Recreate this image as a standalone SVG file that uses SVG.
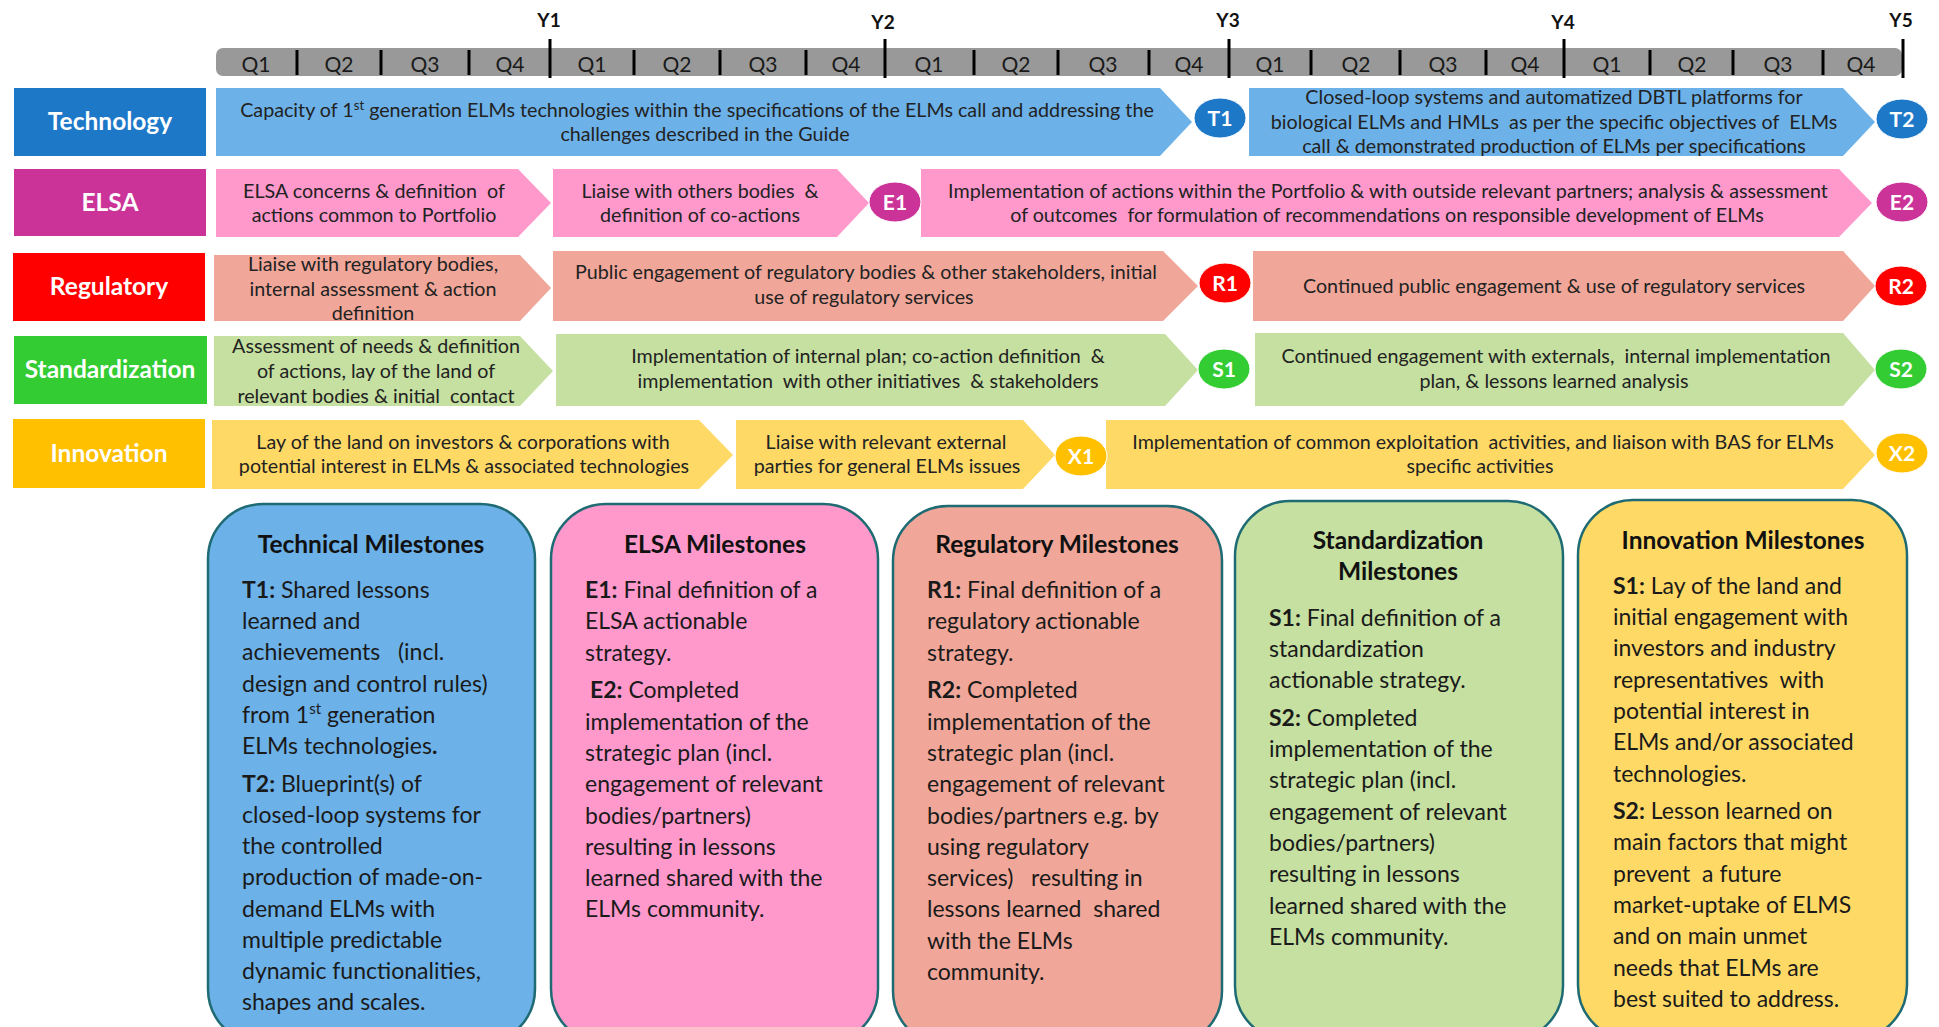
<svg xmlns="http://www.w3.org/2000/svg" width="1939" height="1027" viewBox="0 0 1939 1027">
<style>
text{font-family:Lato,"Liberation Sans",sans-serif}
.lbl{font-weight:bold;fill:#fff;font-size:24.5px;text-anchor:middle}
.bt{font-size:19.7px;fill:#222;text-anchor:middle}
.q{font-size:21px;fill:#1a1a1a;text-anchor:middle}
.yr{font-size:19px;font-weight:bold;fill:#111;text-anchor:middle}
.ct{font-size:21px;font-weight:bold;fill:#fff;text-anchor:middle}
.ms{font-size:23px;fill:#1a1a1a}
.mt{font-size:24.5px;font-weight:bold;fill:#111;text-anchor:middle}
.b{font-weight:bold}
.tick{stroke:#000;stroke-width:3}
.box{stroke:#1f6b73;stroke-width:2.5}
.circ{stroke:#fff;stroke-width:1}
</style>

<g id="timeline">
<rect x="216" y="48" width="1686" height="28" rx="7" fill="#999"/>
<g class="tick">
<line x1="297" y1="50" x2="297" y2="75"/><line x1="381" y1="50" x2="381" y2="75"/><line x1="469" y1="50" x2="469" y2="75"/>
<line x1="550" y1="39" x2="550" y2="78"/>
<line x1="634" y1="50" x2="634" y2="75"/><line x1="720" y1="50" x2="720" y2="75"/><line x1="806" y1="50" x2="806" y2="75"/>
<line x1="885" y1="39" x2="885" y2="78"/>
<line x1="974" y1="50" x2="974" y2="75"/><line x1="1058" y1="50" x2="1058" y2="75"/><line x1="1149" y1="50" x2="1149" y2="75"/>
<line x1="1229" y1="39" x2="1229" y2="78"/>
<line x1="1311" y1="50" x2="1311" y2="75"/><line x1="1400" y1="50" x2="1400" y2="75"/><line x1="1486" y1="50" x2="1486" y2="75"/>
<line x1="1564" y1="39" x2="1564" y2="78"/>
<line x1="1650" y1="50" x2="1650" y2="75"/><line x1="1733" y1="50" x2="1733" y2="75"/><line x1="1823" y1="50" x2="1823" y2="75"/>
<line x1="1903" y1="39" x2="1903" y2="78"/>
</g>
<text class="yr" x="549" y="27">Y1</text>
<text class="yr" x="883" y="29">Y2</text>
<text class="yr" x="1228" y="27">Y3</text>
<text class="yr" x="1563" y="29">Y4</text>
<text class="yr" x="1901" y="27">Y5</text>
<g class="q">
<text x="256" y="72">Q1</text><text x="339" y="72">Q2</text><text x="425" y="72">Q3</text><text x="510" y="72">Q4</text>
<text x="592" y="72">Q1</text><text x="677" y="72">Q2</text><text x="763" y="72">Q3</text><text x="846" y="72">Q4</text>
<text x="929" y="72">Q1</text><text x="1016" y="72">Q2</text><text x="1103" y="72">Q3</text><text x="1189" y="72">Q4</text>
<text x="1270" y="72">Q1</text><text x="1356" y="72">Q2</text><text x="1443" y="72">Q3</text><text x="1525" y="72">Q4</text>
<text x="1607" y="72">Q1</text><text x="1692" y="72">Q2</text><text x="1778" y="72">Q3</text><text x="1861" y="72">Q4</text>
</g>
</g>

<g id="row-technology">
<rect x="14" y="88" width="192" height="68" fill="#1e78c8"/>
<text class="lbl" x="110" y="130">Technology</text>
<path d="M216,88 H1160 L1192,122 L1160,156 H216 Z" fill="#6cb1e8"/>
<text class="bt" x="697" y="117">Capacity of 1<tspan font-size="13" dy="-7">st</tspan><tspan dy="7"> generation ELMs technologies within the specifications of the ELMs call and addressing the</tspan></text>
<text class="bt" x="705" y="141">challenges described in the Guide</text>
<path d="M1249,88 H1843 L1875,122 L1843,156 H1249 Z" fill="#6cb1e8"/>
<text class="bt" x="1554" y="104">Closed-loop systems and automatized DBTL platforms for</text>
<text class="bt" x="1554" y="129">biological ELMs and HMLs &#160;as per the specific objectives of &#160;ELMs</text>
<text class="bt" x="1554" y="153">call &amp; demonstrated production of ELMs per specifications</text>
<ellipse class="circ" cx="1220" cy="118" rx="26" ry="20" fill="#1e78c8"/>
<text class="ct" x="1220" y="125.5">T1</text>
<ellipse class="circ" cx="1902" cy="119" rx="26" ry="20" fill="#1e78c8"/>
<text class="ct" x="1902" y="126.5">T2</text>
</g>

<g id="row-elsa">
<rect x="14" y="169" width="192" height="67" fill="#cc3399"/>
<text class="lbl" x="110" y="211">ELSA</text>
<path d="M216,169 H518 L551,203 L518,237 H216 Z" fill="#ff99cc"/>
<text class="bt" x="374" y="198">ELSA concerns &amp; definition &#160;of</text>
<text class="bt" x="374" y="222">actions common to Portfolio</text>
<path d="M553,169 H837 L869,203 L837,237 H553 Z" fill="#ff99cc"/>
<text class="bt" x="700" y="198">Liaise with others bodies &#160;&amp;</text>
<text class="bt" x="700" y="222">definition of co-actions</text>
<path d="M921,169 H1839 L1872,203 L1839,237 H921 Z" fill="#ff99cc"/>
<text class="bt" x="1388" y="198">Implementation of actions within the Portfolio &amp; with outside relevant partners; analysis &amp; assessment</text>
<text class="bt" x="1387" y="222">of outcomes &#160;for formulation of recommendations on responsible development of ELMs</text>
<ellipse class="circ" cx="895" cy="202" rx="26" ry="20" fill="#cc3399"/>
<text class="ct" x="895" y="209.5">E1</text>
<ellipse class="circ" cx="1902" cy="202" rx="26" ry="20" fill="#cc3399"/>
<text class="ct" x="1902" y="209.5">E2</text>
</g>

<g id="row-regulatory">
<rect x="13" y="253" width="192" height="68" fill="#ff0000"/>
<text class="lbl" x="109" y="295">Regulatory</text>
<path d="M214,255 H520 L551,288 L520,321 H214 Z" fill="#f0a799"/>
<text class="bt" x="373" y="271">Liaise with regulatory bodies,</text>
<text class="bt" x="373" y="296">internal assessment &amp; action</text>
<text class="bt" x="373" y="320">definition</text>
<path d="M553,251 H1163 L1198,286 L1163,321 H553 Z" fill="#f0a799"/>
<text class="bt" x="866" y="279">Public engagement of regulatory bodies &amp; other stakeholders, initial</text>
<text class="bt" x="864" y="304">use of regulatory services</text>
<path d="M1253,251 H1843 L1875,286 L1843,321 H1253 Z" fill="#f0a799"/>
<text class="bt" x="1554" y="293">Continued public engagement &amp; use of regulatory services</text>
<ellipse class="circ" cx="1225" cy="283" rx="26" ry="20" fill="#ff0000"/>
<text class="ct" x="1225" y="290.5">R1</text>
<ellipse class="circ" cx="1901" cy="286" rx="26" ry="20" fill="#ff0000"/>
<text class="ct" x="1901" y="293.5">R2</text>
</g>

<g id="row-standardization">
<rect x="14" y="336" width="193" height="68" fill="#33cc33"/>
<text class="lbl" x="110" y="378">Standardization</text>
<path d="M214,336 H520 L553,371 L520,406 H214 Z" fill="#c5e0a0"/>
<text class="bt" x="376" y="353">Assessment of needs &amp; definition</text>
<text class="bt" x="376" y="378">of actions, lay of the land of</text>
<text class="bt" x="376" y="403">relevant bodies &amp; initial &#160;contact</text>
<path d="M556,334 H1165 L1198,370 L1165,406 H556 Z" fill="#c5e0a0"/>
<text class="bt" x="868" y="363">Implementation of internal plan; co-action definition &#160;&amp;</text>
<text class="bt" x="868" y="388">implementation &#160;with other initiatives &#160;&amp; stakeholders</text>
<path d="M1255,333 H1843 L1875,370 L1843,406 H1255 Z" fill="#c5e0a0"/>
<text class="bt" x="1556" y="363">Continued engagement with externals, &#160;internal implementation</text>
<text class="bt" x="1554" y="388">plan, &amp; lessons learned analysis</text>
<ellipse class="circ" cx="1224" cy="369" rx="26" ry="20" fill="#33cc33"/>
<text class="ct" x="1224" y="376.5">S1</text>
<ellipse class="circ" cx="1901" cy="369" rx="26" ry="20" fill="#33cc33"/>
<text class="ct" x="1901" y="376.5">S2</text>
</g>

<g id="row-innovation">
<rect x="13" y="419" width="192" height="69" fill="#ffc000"/>
<text class="lbl" x="109" y="462">Innovation</text>
<path d="M212,420 H699 L733,455 L699,489 H212 Z" fill="#ffd966"/>
<text class="bt" x="463" y="449">Lay of the land on investors &amp; corporations with</text>
<text class="bt" x="464" y="473">potential interest in ELMs &amp; associated technologies</text>
<path d="M736,420 H1023 L1055,455 L1023,489 H736 Z" fill="#ffd966"/>
<text class="bt" x="886" y="449">Liaise with relevant external</text>
<text class="bt" x="887" y="473">parties for general ELMs issues</text>
<path d="M1106,420 H1843 L1875,455 L1843,489 H1106 Z" fill="#ffd966"/>
<text class="bt" x="1483" y="449">Implementation of common exploitation &#160;activities, and liaison with BAS for ELMs</text>
<text class="bt" x="1480" y="473">specific activities</text>
<ellipse class="circ" cx="1081" cy="456" rx="26" ry="20" fill="#ffc000"/>
<text class="ct" x="1081" y="463.5">X1</text>
<ellipse class="circ" cx="1902" cy="453" rx="26" ry="20" fill="#ffc000"/>
<text class="ct" x="1902" y="460.5">X2</text>
</g>

<g id="box-technical">
<rect class="box" x="208" y="504" width="327" height="540" rx="55" fill="#6cb1e8"/>
<text class="mt" x="371" y="553">Technical Milestones</text>
<text class="ms">
<tspan x="242" y="598"><tspan class="b">T1:</tspan> Shared lessons</tspan>
<tspan x="242" y="629">learned and</tspan>
<tspan x="242" y="660">achievements &#160;&#160;(incl.</tspan>
<tspan x="242" y="692">design and control rules)</tspan>
<tspan x="242" y="723">from 1<tspan font-size="15" dy="-9">st</tspan><tspan dy="9"> generation</tspan></tspan>
<tspan x="242" y="754">ELMs technologies<tspan class="b">.</tspan></tspan>
<tspan x="242" y="792"><tspan class="b">T2:</tspan> Blueprint(s) of</tspan>
<tspan x="242" y="823">closed-loop systems for</tspan>
<tspan x="242" y="854">the controlled</tspan>
<tspan x="242" y="885">production of made-on-</tspan>
<tspan x="242" y="917">demand ELMs with</tspan>
<tspan x="242" y="948">multiple predictable</tspan>
<tspan x="242" y="979">dynamic functionalities,</tspan>
<tspan x="242" y="1010">shapes and scales.</tspan>
</text>
</g>

<g id="box-elsa">
<rect class="box" x="551" y="504" width="327" height="540" rx="55" fill="#ff99cc"/>
<text class="mt" x="715" y="553">ELSA Milestones</text>
<text class="ms">
<tspan x="585" y="598"><tspan class="b">E1:</tspan> Final definition of a</tspan>
<tspan x="585" y="629">ELSA actionable</tspan>
<tspan x="585" y="661">strategy.</tspan>
<tspan x="590" y="698"><tspan class="b">E2:</tspan> Completed</tspan>
<tspan x="585" y="730">implementation of the</tspan>
<tspan x="585" y="761">strategic plan (incl.</tspan>
<tspan x="585" y="792">engagement of relevant</tspan>
<tspan x="585" y="824">bodies/partners)</tspan>
<tspan x="585" y="855">resulting in lessons</tspan>
<tspan x="585" y="886">learned shared with the</tspan>
<tspan x="585" y="917">ELMs community.</tspan>
</text>
</g>

<g id="box-regulatory">
<rect class="box" x="893" y="506" width="329" height="540" rx="55" fill="#f0a799"/>
<text class="mt" x="1057" y="553">Regulatory Milestones</text>
<text class="ms">
<tspan x="927" y="598"><tspan class="b">R1:</tspan> Final definition of a</tspan>
<tspan x="927" y="629">regulatory actionable</tspan>
<tspan x="927" y="661">strategy.</tspan>
<tspan x="927" y="698"><tspan class="b">R2:</tspan> Completed</tspan>
<tspan x="927" y="730">implementation of the</tspan>
<tspan x="927" y="761">strategic plan (incl.</tspan>
<tspan x="927" y="792">engagement of relevant</tspan>
<tspan x="927" y="824">bodies/partners e.g. by</tspan>
<tspan x="927" y="855">using regulatory</tspan>
<tspan x="927" y="886">services) &#160;&#160;resulting in</tspan>
<tspan x="927" y="917">lessons learned &#160;shared</tspan>
<tspan x="927" y="949">with the ELMs</tspan>
<tspan x="927" y="980">community.</tspan>
</text>
</g>

<g id="box-standardization">
<rect class="box" x="1235" y="501" width="328" height="540" rx="55" fill="#c5e0a0"/>
<text class="mt" x="1398" y="549">Standardization</text>
<text class="mt" x="1398" y="580">Milestones</text>
<text class="ms">
<tspan x="1269" y="626"><tspan class="b">S1:</tspan> Final definition of a</tspan>
<tspan x="1269" y="657">standardization</tspan>
<tspan x="1269" y="688">actionable strategy.</tspan>
<tspan x="1269" y="726"><tspan class="b">S2:</tspan> Completed</tspan>
<tspan x="1269" y="757">implementation of the</tspan>
<tspan x="1269" y="788">strategic plan (incl.</tspan>
<tspan x="1269" y="820">engagement of relevant</tspan>
<tspan x="1269" y="851">bodies/partners)</tspan>
<tspan x="1269" y="882">resulting in lessons</tspan>
<tspan x="1269" y="914">learned shared with the</tspan>
<tspan x="1269" y="945">ELMs community.</tspan>
</text>
</g>

<g id="box-innovation">
<rect class="box" x="1578" y="500" width="329" height="540" rx="55" fill="#ffd966"/>
<text class="mt" x="1743" y="549">Innovation Milestones</text>
<text class="ms">
<tspan x="1613" y="594"><tspan class="b">S1:</tspan> Lay of the land and</tspan>
<tspan x="1613" y="625">initial engagement with</tspan>
<tspan x="1613" y="656">investors and industry</tspan>
<tspan x="1613" y="688">representatives &#160;with</tspan>
<tspan x="1613" y="719">potential interest in</tspan>
<tspan x="1613" y="750">ELMs and/or associated</tspan>
<tspan x="1613" y="782">technologies.</tspan>
<tspan x="1613" y="819"><tspan class="b">S2:</tspan> Lesson learned on</tspan>
<tspan x="1613" y="850">main factors that might</tspan>
<tspan x="1613" y="882">prevent &#160;a future</tspan>
<tspan x="1613" y="913">market-uptake of ELMS</tspan>
<tspan x="1613" y="944">and on main unmet</tspan>
<tspan x="1613" y="976">needs that ELMs are</tspan>
<tspan x="1613" y="1007">best suited to address.</tspan>
</text>
</g>

<g id="connectors"/>
</svg>
